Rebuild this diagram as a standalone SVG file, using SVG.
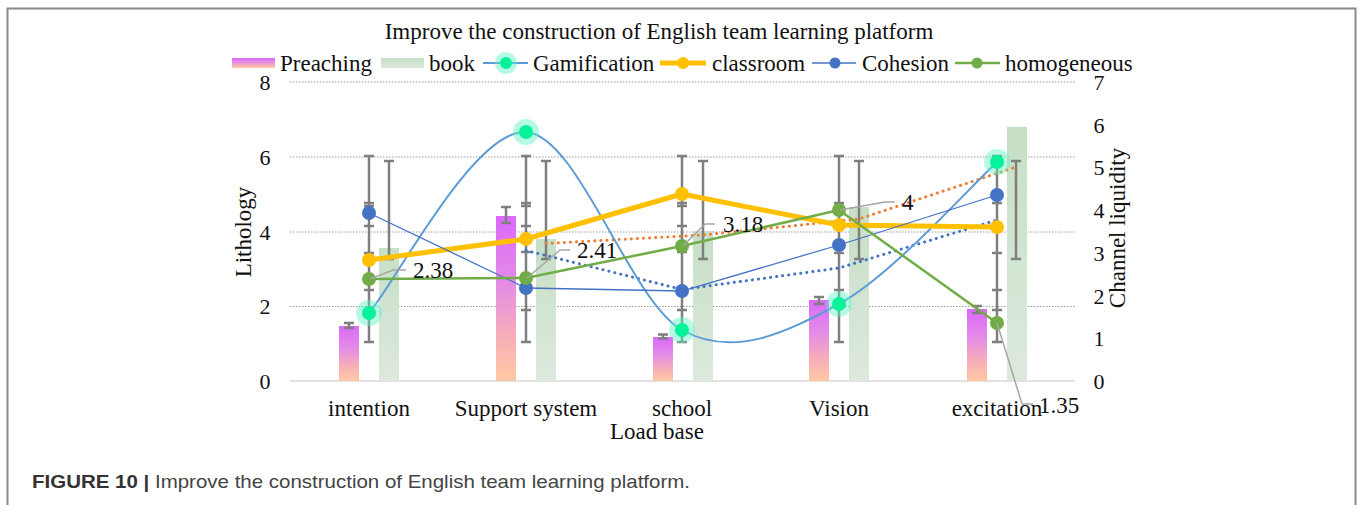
<svg xmlns="http://www.w3.org/2000/svg" width="1360" height="505" viewBox="0 0 1360 505">
<style>
.t{font-family:"Liberation Serif","Times New Roman",serif;fill:#111}
.ttl{font-size:23px}
.tick{font-size:22px;text-anchor:middle}
.cat{font-size:23px;text-anchor:middle}
.grid{stroke:#9a9a9a;stroke-width:1;stroke-dasharray:1.5,1.5}
.eb{stroke:#7f7f7f;stroke-width:2.5;fill:none}
.lead{stroke:#a6a6a6;stroke-width:1.5;fill:none}
.pr{fill:url(#gPr)}
.bk{fill:url(#gBk)}
.halo{fill:#5ef2c4;fill-opacity:0.45}
.mg{fill:#06f29a}
.mo{fill:#ffc000}
.mb{fill:#4472c4}
.mgr{fill:#70ad47}
.cap{font-family:"Liberation Sans",Arial,sans-serif;font-size:19px;fill:#444}
</style>
<defs>
<linearGradient id="gPr" x1="0" y1="0" x2="0" y2="1">
<stop offset="0" stop-color="#dc68fb"/>
<stop offset="0.4" stop-color="#e48be6"/>
<stop offset="0.75" stop-color="#f7b1b6"/>
<stop offset="1" stop-color="#ffc9a4"/>
</linearGradient>
<linearGradient id="gBk" x1="0" y1="0" x2="0" y2="1">
<stop offset="0" stop-color="#c6dfc6"/>
<stop offset="1" stop-color="#dde9dd"/>
</linearGradient>
</defs>
<rect x="7.5" y="8.5" width="1348" height="510" fill="#fff" stroke="#8a8a8a" stroke-width="2"/>

<g id="title"><text class="t ttl" x="659" y="39" text-anchor="middle">Improve the construction of English team learning platform</text></g>

<g id="legend">
<rect x="232" y="58" width="43" height="10" fill="url(#gPr)"/>
<text class="t ttl" x="280" y="71">Preaching</text>
<rect x="381" y="58" width="43" height="10" fill="url(#gBk)"/>
<text class="t ttl" x="429" y="71">book</text>
<line x1="483" y1="63" x2="528" y2="63" stroke="#5b9bd5" stroke-width="2"/>
<circle class="halo" cx="506" cy="63" r="11"/><circle class="mg" cx="506" cy="63" r="6"/>
<text class="t ttl" x="533" y="71">Gamification</text>
<line x1="660" y1="63" x2="706" y2="63" stroke="#ffc000" stroke-width="5"/>
<circle class="mo" cx="683" cy="63" r="6"/>
<text class="t ttl" x="712" y="71">classroom</text>
<line x1="812" y1="63" x2="856" y2="63" stroke="#4472c4" stroke-width="1.3"/>
<circle class="mb" cx="835" cy="63" r="5.5"/>
<text class="t ttl" x="862" y="71">Cohesion</text>
<line x1="955" y1="63" x2="1000" y2="63" stroke="#70ad47" stroke-width="2.5"/>
<circle class="mgr" cx="977" cy="63" r="5.5"/>
<text class="t ttl" x="1005" y="71">homogeneous</text>
</g>

<g id="gridlines">
<line class="grid" x1="290" y1="82" x2="1075" y2="82"/>
<line class="grid" x1="290" y1="157" x2="1075" y2="157"/>
<line class="grid" x1="290" y1="232" x2="1075" y2="232"/>
<line class="grid" x1="290" y1="306.5" x2="1075" y2="306.5"/>
<line x1="290" y1="381" x2="1075" y2="381" stroke="#d9d9d9" stroke-width="1.5"/>
</g>

<g id="axis-left">
<text class="t tick" x="265" y="90">8</text>
<text class="t tick" x="265" y="165">6</text>
<text class="t tick" x="265" y="240">4</text>
<text class="t tick" x="265" y="314">2</text>
<text class="t tick" x="265" y="389">0</text>
<text class="t ttl" text-anchor="middle" transform="translate(251,232) rotate(-90)">Lithology</text>
</g>
<g id="axis-right">
<text class="t tick" x="1099" y="90">7</text>
<text class="t tick" x="1099" y="133">6</text>
<text class="t tick" x="1099" y="175">5</text>
<text class="t tick" x="1099" y="218">4</text>
<text class="t tick" x="1099" y="261">3</text>
<text class="t tick" x="1099" y="304">2</text>
<text class="t tick" x="1099" y="346">1</text>
<text class="t tick" x="1099" y="389">0</text>
<text class="t ttl" text-anchor="middle" transform="translate(1125,228) rotate(-90)">Channel liquidity</text>
</g>

<g id="categories">
<text class="t cat" x="369" y="416">intention</text>
<text class="t cat" x="526" y="416">Support system</text>
<text class="t cat" x="682" y="416">school</text>
<text class="t cat" x="839" y="416">Vision</text>
<text class="t cat" x="997" y="416">excitation</text>
<text class="t cat" x="657" y="439">Load base</text>
</g>

<g id="bars-preaching">
<rect class="pr" x="339" y="326" width="20" height="55"/>
<rect class="pr" x="496" y="216" width="20" height="165"/>
<rect class="pr" x="653" y="337" width="20" height="44"/>
<rect class="pr" x="809" y="300" width="20" height="81"/>
<rect class="pr" x="967" y="309" width="20" height="72"/>
</g>
<g id="bars-book">
<rect class="bk" x="379" y="248" width="20" height="133"/>
<rect class="bk" x="536" y="239" width="20" height="142"/>
<rect class="bk" x="693" y="231" width="20" height="150"/>
<rect class="bk" x="849" y="207" width="20" height="174"/>
<rect class="bk" x="1007" y="127" width="20" height="254"/>
</g>

<g id="error-bars">
<path class="eb" d="M349,323V328M344,323H354M344,328H354"/>
<path class="eb" d="M506,207V223M501,207H511M501,223H511"/>
<path class="eb" d="M663,334.5V338.5M658,334.5H668M658,338.5H668"/>
<path class="eb" d="M819,297V304M814,297H824M814,304H824"/>
<path class="eb" d="M977,306V313M972,306H982M972,313H982"/>
<path class="eb" d="M389,161V259M384,161H394M384,259H394"/>
<path class="eb" d="M546,161V259M541,161H551M541,259H551"/>
<path class="eb" d="M703,161V259M698,161H708M698,259H708"/>
<path class="eb" d="M859,161V259M854,161H864M854,259H864"/>
<path class="eb" d="M1016,161V259M1011,161H1021M1011,259H1021"/>
<path class="eb" d="M369,156V342M364,156H374M364,203H374M364,206H374M364,226H374M364,253H374M364,290H374M364,342H374"/>
<path class="eb" d="M526,156V342M521,156H531M521,203H531M521,206H531M521,226H531M521,252H531M521,310H531M521,342H531"/>
<path class="eb" d="M682,156V342M677,156H687M677,203H687M677,206H687M677,226H687M677,252H687M677,310H687M677,342H687"/>
<path class="eb" d="M839,156V342M834,156H844M834,203H844M834,206H844M834,253H844M834,290H844M834,342H844"/>
<path class="eb" d="M997,156V342M992,156H1002M992,203H1002M992,253H1002M992,290H1002M992,310H1002M992,342H1002"/>
</g>

<g id="connectors">
<polyline points="546,243.5 703,235 859,219 1016,167" fill="none" stroke="#ed7d31" stroke-width="3" stroke-dasharray="0.1,6" stroke-linecap="round"/>
<polyline points="526,250.5 682,289.5 839,268 997,220" fill="none" stroke="#4472c4" stroke-width="3" stroke-dasharray="0.1,6" stroke-linecap="round"/>
<path d="M369,313C395,283 474,129 526,132C578,135 630,301 682,330C734,359 787,332 839,304C891,276 971,186 997,162" fill="none" stroke="#5b9bd5" stroke-width="2"/>
<polyline points="369,260 526,239 682,194 839,225 997,227" fill="none" stroke="#ffc000" stroke-width="5" stroke-linejoin="round"/>
<polyline points="369,213 526,288 682,291 839,245 997,195" fill="none" stroke="#4472c4" stroke-width="1.3"/>
<polyline points="369,279 526,278 682,246 839,210 997,323" fill="none" stroke="#70ad47" stroke-width="2.5"/>
</g>

<g id="markers">
<g id="gamification">
<circle class="halo" cx="369" cy="313" r="13"/><circle class="mg" cx="369" cy="313" r="7"/>
<circle class="halo" cx="526" cy="132" r="13"/><circle class="mg" cx="526" cy="132" r="7"/>
<circle class="halo" cx="682" cy="330" r="13"/><circle class="mg" cx="682" cy="330" r="7"/>
<circle class="halo" cx="839" cy="304" r="13"/><circle class="mg" cx="839" cy="304" r="7"/>
<circle class="halo" cx="997" cy="162" r="13"/><circle class="mg" cx="997" cy="162" r="7"/>
</g>
<g id="classroom">
<circle class="mo" cx="369" cy="260" r="7"/><circle class="mo" cx="526" cy="239" r="7"/><circle class="mo" cx="682" cy="194" r="7"/><circle class="mo" cx="839" cy="225" r="7"/><circle class="mo" cx="997" cy="227" r="7"/>
</g>
<g id="cohesion">
<circle class="mb" cx="369" cy="213" r="7"/><circle class="mb" cx="526" cy="288" r="7"/><circle class="mb" cx="682" cy="291" r="7"/><circle class="mb" cx="839" cy="245" r="7"/><circle class="mb" cx="997" cy="195" r="7"/>
</g>
<g id="homogeneous">
<circle class="mgr" cx="369" cy="279" r="7"/><circle class="mgr" cx="526" cy="278" r="7"/><circle class="mgr" cx="682" cy="246" r="7"/><circle class="mgr" cx="839" cy="210" r="7"/><circle class="mgr" cx="997" cy="323" r="7"/>
</g>
</g>

<g id="data-labels">
<polyline class="lead" points="370,279 393,270 406,270"/>
<text class="t ttl" x="413" y="278">2.38</text>
<polyline class="lead" points="527,278 560,250 570,250"/>
<text class="t ttl" x="577" y="258">2.41</text>
<polyline class="lead" points="683,246 705,224 715,224"/>
<text class="t ttl" x="723" y="232">3.18</text>
<polyline class="lead" points="840,210 885,202 895,202"/>
<text class="t ttl" x="902" y="210">4</text>
<polyline class="lead" points="997,323 1022,404 1033,404"/>
<text class="t ttl" x="1039" y="413">1.35</text>
</g>

<g id="caption">
<text class="cap" x="32" y="488" textLength="658" lengthAdjust="spacingAndGlyphs"><tspan font-weight="bold" fill="#333">FIGURE 10 |</tspan> Improve the construction of English team learning platform.</text>
</g>
</svg>
